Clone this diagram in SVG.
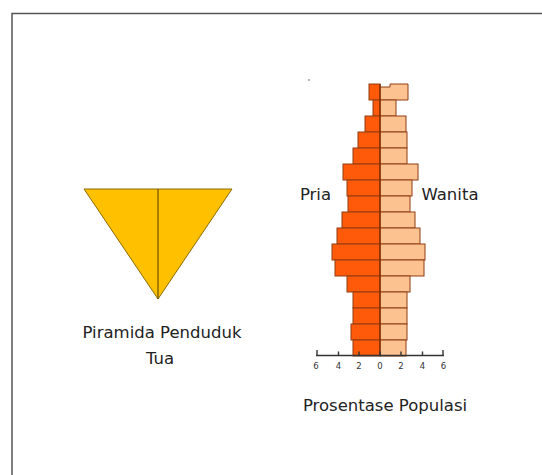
<svg xmlns="http://www.w3.org/2000/svg" width="542" height="475" viewBox="0 0 542 475">
<style>
.t{font-family:"DejaVu Sans","Liberation Sans",sans-serif;font-size:16.5px;fill:#222;text-anchor:middle}
.ax{font-family:"DejaVu Sans","Liberation Sans",sans-serif;font-size:8.5px;fill:#333;text-anchor:middle}
.m{fill:#ff5a0a;stroke:#8f3c10;stroke-width:1}
.f{fill:#fcc290;stroke:#8f3c10;stroke-width:1}
</style>
<rect x="0" y="0" width="542" height="475" fill="#fff"/>
<rect x="12" y="13.5" width="545" height="480" fill="none" stroke="#555" stroke-width="1.5"/>
<g id="piramida-tua">
<polygon points="84,189 232,189 158,299" fill="#ffc000" stroke="#8a6a00" stroke-width="1"/>
<line x1="158" y1="189" x2="158" y2="299" stroke="#6f5000" stroke-width="1.2"/>
<text class="t" x="162" y="338">Piramida Penduduk</text>
<text class="t" x="160" y="364">Tua</text>
</g>
<g id="piramida-grafik">
<circle cx="309" cy="80" r="0.9" fill="#999"/>
<g id="pria">
<rect class="m" x="369" y="84" width="11" height="16"/>
<rect class="m" x="373" y="100" width="7" height="16"/>
<rect class="m" x="365" y="116" width="15" height="16"/>
<rect class="m" x="358" y="132" width="22" height="16"/>
<rect class="m" x="353" y="148" width="27" height="16"/>
<rect class="m" x="343" y="164" width="37" height="16"/>
<rect class="m" x="347" y="180" width="33" height="16"/>
<rect class="m" x="348" y="196" width="32" height="16"/>
<rect class="m" x="342" y="212" width="38" height="16"/>
<rect class="m" x="337" y="228" width="43" height="16"/>
<rect class="m" x="332" y="244" width="48" height="16"/>
<rect class="m" x="335" y="260" width="45" height="16"/>
<rect class="m" x="347" y="276" width="33" height="16"/>
<rect class="m" x="353" y="292" width="27" height="16"/>
<rect class="m" x="353" y="308" width="27" height="16"/>
<rect class="m" x="351" y="324" width="29" height="16"/>
<rect class="m" x="353" y="340" width="27" height="16"/>
</g>
<g id="wanita">
<path class="f" d="M380,87 H390 V84 H408 V100 H380 Z"/>
<rect class="f" x="380" y="100" width="16" height="16"/>
<rect class="f" x="380" y="116" width="26" height="16"/>
<rect class="f" x="380" y="132" width="27" height="16"/>
<rect class="f" x="380" y="148" width="27" height="16"/>
<rect class="f" x="380" y="164" width="38" height="16"/>
<rect class="f" x="380" y="180" width="32" height="16"/>
<rect class="f" x="380" y="196" width="30" height="16"/>
<rect class="f" x="380" y="212" width="35" height="16"/>
<rect class="f" x="380" y="228" width="40" height="16"/>
<rect class="f" x="380" y="244" width="45" height="16"/>
<rect class="f" x="380" y="260" width="44" height="16"/>
<rect class="f" x="380" y="276" width="30" height="16"/>
<rect class="f" x="380" y="292" width="27" height="16"/>
<rect class="f" x="380" y="308" width="27" height="16"/>
<rect class="f" x="380" y="324" width="27" height="16"/>
<rect class="f" x="380" y="340" width="26" height="16"/>
</g>
<line x1="380" y1="84" x2="380" y2="356" stroke="#8a3000" stroke-width="1.5"/>
<g id="sumbu" stroke="#333" stroke-width="1.4" fill="none">
<line x1="316" y1="355.5" x2="444" y2="355.5"/>
<path d="M317,350 V355.5 M338.5,351.5 V355.5 M359,351.5 V355.5 M380,351.5 V355.5 M401,351.5 V355.5 M422.5,351.5 V355.5 M443,350 V355.5"/>
</g>
<text class="ax" x="316" y="369">6</text>
<text class="ax" x="338.5" y="369">4</text>
<text class="ax" x="359" y="369">2</text>
<text class="ax" x="380" y="369">0</text>
<text class="ax" x="401" y="369">2</text>
<text class="ax" x="422.5" y="369">4</text>
<text class="ax" x="443.5" y="369">6</text>
<text class="t" x="315.5" y="200">Pria</text>
<text class="t" x="450" y="200">Wanita</text>
<text class="t" x="385" y="411">Prosentase Populasi</text>
</g>
</svg>
